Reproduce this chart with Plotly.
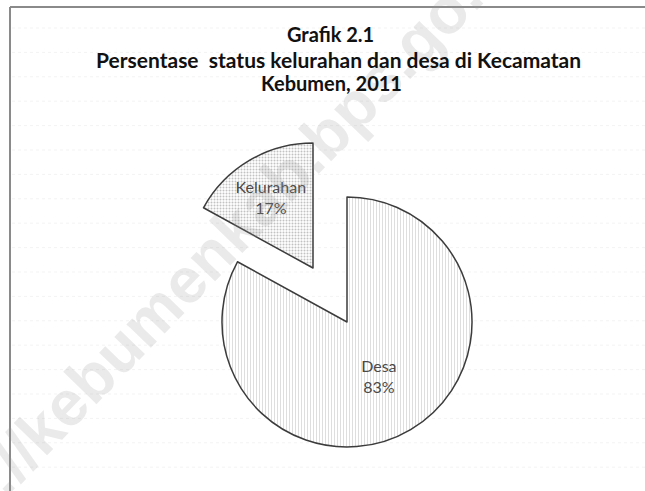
import plotly.graph_objects as go

# ---- data ----
categories = ["Desa", "Kelurahan"]
percent_values = [83, 17]

title_lines = ["Grafik 2.1",
               "Persentase&nbsp; status kelurahan dan desa di Kecamatan",
               "Kebumen, 2011"]
watermark = "http://kebumenkab.bps.go.id"

# ---- layout constants (pixels) ----
W, H = 645, 491
R = 125
desa_center = (347, 322)
kel_center = (313, 268)

def domain(center):
    cx, cy = center
    return dict(x=[(cx - R) / W, (cx + R) / W],
                y=[1 - (cy + R) / H, 1 - (cy - R) / H])

def py(px):
    return 1 - px / H

clear = "rgba(0,0,0,0)"
edge = "#3c3c3c"
label_tpl = "%{label}<br>%{percent}"
label_font = dict(family="Lato", size=16, color="#4a4a4a")

fig = go.Figure()

# Desa (main body) - Kelurahan slice left empty
fig.add_trace(go.Pie(
    labels=categories, values=percent_values, sort=False,
    direction="clockwise", rotation=0,
    domain=domain(desa_center),
    marker=dict(colors=["#ffffff", clear],
                line=dict(color=[edge, clear], width=[1.5, 0]),
                pattern=dict(shape=["|", ""], size=3, solidity=0.22,
                             fgcolor="#cdcdcd", bgcolor="#ffffff")),
    texttemplate=[label_tpl, ""], textposition="inside",
    insidetextorientation="horizontal",
    textfont=label_font,
    showlegend=False, hoverinfo="label+percent",
))

# Kelurahan (exploded slice)
fig.add_trace(go.Pie(
    labels=categories, values=percent_values, sort=False,
    direction="clockwise", rotation=0,
    domain=domain(kel_center),
    marker=dict(colors=[clear, "#ffffff"],
                line=dict(color=[clear, edge], width=[0, 1.5]),
                pattern=dict(shape=["", "."], size=3, solidity=0.35,
                             fgcolor="#c2c2c2", bgcolor="#ffffff")),
    texttemplate=["", label_tpl], textposition="inside",
    insidetextorientation="horizontal",
    textfont=label_font,
    showlegend=False, hoverinfo="label+percent",
))

# faint spreadsheet gridlines in the background
grid_shapes = []
y = 28.0
while y < H:
    grid_shapes.append(dict(type="line", xref="paper", yref="paper", layer="below",
                            x0=12 / W, x1=1, y0=py(y), y1=py(y),
                            line=dict(color="#f3f3f3", width=1, dash="dot")))
    y += 24.4

title_pos = [(330, 34, 20), (338, 59, 21), (331, 83, 20)]
title_ann = [dict(text="<b>%s</b>" % t, x=xp / W, y=py(yp), xref="paper", yref="paper",
                  showarrow=False, xanchor="center", yanchor="middle",
                  font=dict(family="Lato", size=fs, color="#111111"))
             for t, (xp, yp, fs) in zip(title_lines, title_pos)]

fig.update_layout(
    width=W, height=H,
    margin=dict(l=0, r=0, t=0, b=0),
    paper_bgcolor="white", plot_bgcolor="white",
    annotations=[
        dict(text=watermark, x=207 / W, y=py(258), xref="paper", yref="paper",
             showarrow=False, textangle=-46, xanchor="center", yanchor="middle",
             font=dict(family="Liberation Sans", size=64, color="rgba(150,150,150,0.2)",
                       weight="bold")),
    ] + title_ann,
    shapes=grid_shapes + [
        dict(type="line", xref="paper", yref="paper",
             x0=10 / W, x1=1, y0=py(7), y1=py(7),
             line=dict(color="#8a8a8a", width=2)),
        dict(type="line", xref="paper", yref="paper",
             x0=10 / W, x1=10 / W, y0=py(7), y1=0,
             line=dict(color="#8a8a8a", width=2)),
    ],
)

fig.write_html("out.html", config={"displayModeBar": False},
               post_script="document.body.style.margin='0';document.body.style.overflow='hidden';")
